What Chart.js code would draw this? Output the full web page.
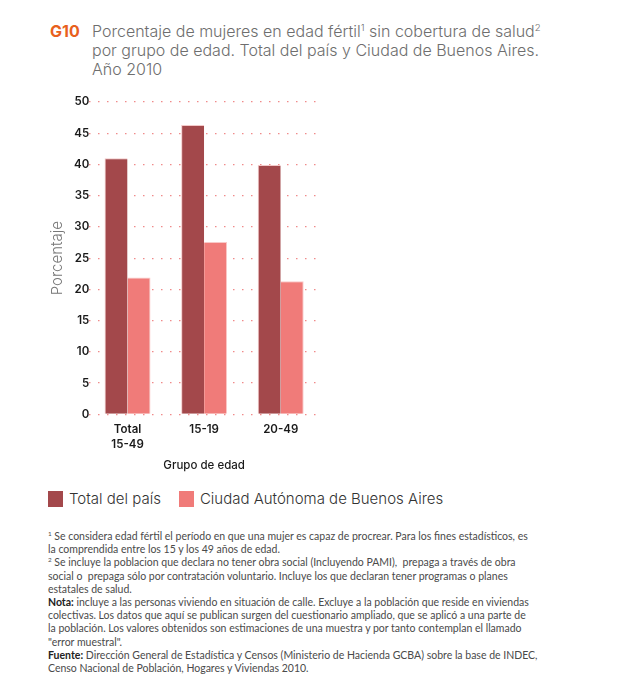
<!DOCTYPE html>
<html lang="es">
<head>
  <meta charset="UTF-8" />
  <title>G10 Porcentaje de mujeres en edad fértil sin cobertura de salud</title>
  <script src="https://cdn.jsdelivr.net/npm/chart.js"></script>
  <style>
    body {
      margin: 0;
      width: 625px;
      height: 688px;
      background: #fff;
      font-family: Inter, "Open Sans", sans-serif;
      position: relative;
      overflow: hidden;
    }
    .title {
      position: absolute;
      left: 50px;
      top: 22px;
      font-size: 16px;
      line-height: 19px;
      font-weight: 300;
      color: #6e6e6e;
    }
    .title .code {
      position: absolute;
      left: 0;
      top: 0;
      color: #e8601c;
      font-weight: 700;
    }
    .title .text {
      margin-left: 42px;
    }
    .chart-box {
      position: absolute;
      left: 0;
      top: 0;
      width: 625px;
      height: 480px;
    }
    .legend {
      position: absolute;
      left: 48px;
      top: 489px;
      display: flex;
      font-size: 15px;
      font-weight: 300;
      color: #333;
    }
    .legend span.item {
      display: flex;
      align-items: center;
      margin-right: 18px;
    }
    .legend i {
      display: inline-block;
      width: 15px;
      height: 16px;
      margin-right: 6px;
    }
    .notes {
      position: absolute;
      left: 48px;
      top: 530px;
      font-family: Lato, Inter, sans-serif;
      font-size: 10.5px;
      line-height: 13.2px;
      font-weight: 400;
      color: #4a4a4a;
    }
    .notes b { font-weight: 700; color: #222; }
    sup { font-size: 0.6em; line-height: 0; vertical-align: 0.6em; }
  </style>
</head>
<body>
  <div class="title">
    <span class="code">G10</span>
    <div class="text">Porcentaje de mujeres en edad fértil<sup>1</sup> sin cobertura de salud<sup>2</sup><br>por grupo de edad. Total del país y Ciudad de Buenos Aires.<br>Año 2010</div>
  </div>

  <div class="chart-box"><canvas id="chart"></canvas></div>

  <div class="legend" id="legend"></div>

  <div class="notes">
    <sup>1</sup> Se considera edad fértil el período en que una mujer es capaz de procrear. Para los fines estadísticos, es<br>
    la comprendida entre los 15 y los 49 años de edad.<br>
    <sup>2</sup> Se incluye la poblacion que declara no tener obra social (Incluyendo PAMI),&nbsp; prepaga a través de obra<br>
    social o&nbsp; prepaga sólo por contratación voluntario. Incluye los que declaran tener programas o planes<br>
    estatales de salud.<br>
    <b>Nota:</b> incluye a las personas viviendo en situación de calle. Excluye a la población que reside en viviendas<br>
    colectivas. Los datos que aquí se publican surgen del cuestionario ampliado, que se aplicó a una parte de<br>
    la población. Los valores obtenidos son estimaciones de una muestra y por tanto contemplan el llamado<br>
    "error muestral".<br>
    <b>Fuente:</b> Dirección General de Estadística y Censos (Ministerio de Hacienda GCBA) sobre la base de INDEC,<br>
    Censo Nacional de Población, Hogares y Viviendas 2010.
  </div>

  <script>
    // data
    const categories = [['Total', '15-49'], '15-19', '20-49'];
    const totalPais = [41.0, 46.3, 39.9];
    const caba = [21.9, 27.6, 21.3];
    const seriesNames = ['Total del país', 'Ciudad Autónoma de Buenos Aires'];
    const seriesColors = ['#a3484b', '#f07b79'];
    const yTicks = [0, 5, 10, 15, 20, 25, 30, 35, 40, 45, 50];

    const font = 'Inter, "Open Sans", sans-serif';

    const chart = new Chart(document.getElementById('chart'), {
      type: 'bar',
      data: {
        labels: categories,
        datasets: [
          { label: seriesNames[0], data: totalPais, backgroundColor: seriesColors[0],
            borderColor: '#f3c9c9', borderWidth: { top: 1, left: 1, right: 0, bottom: 0 } },
          { label: seriesNames[1], data: caba, backgroundColor: seriesColors[1],
            borderColor: '#f9c9c8', borderWidth: { top: 1, left: 0, right: 1, bottom: 0 } }
        ]
      },
      options: {
        responsive: true,
        maintainAspectRatio: false,
        animation: false,
        layout: { padding: { left: 48, right: 306, top: 102, bottom: 8 } },
        plugins: {
          legend: { display: false },
          tooltip: { enabled: false }
        },
        datasets: { bar: { categoryPercentage: 0.6, barPercentage: 1.0 } },
        scales: {
          x: {
            grid: { display: false },
            border: { display: false },
            ticks: { color: '#1a1a1a', font: { family: font, size: 11.5, weight: '600', lineHeight: 1.3 }, padding: 0, maxRotation: 0 },
            title: { display: true, text: 'Grupo de edad', color: '#1a1a1a',
                     font: { family: font, size: 11.5, weight: '500' }, padding: { top: 6, bottom: 0 } }
          },
          y: {
            min: 0,
            max: 50,
            afterBuildTicks: (axis) => { axis.ticks = yTicks.map(v => ({ value: v })); },
            grid: { color: '#f08a8a', lineWidth: 1.2, drawTicks: false },
            border: { display: false, dash: [1.5, 7.5] },
            ticks: { color: '#1a1a1a', font: { family: font, size: 11.5, weight: '600' }, padding: 0 },
            title: { display: true, text: 'Porcentaje', color: '#777',
                     font: { family: font, size: 15, weight: '300' }, padding: { top: 0, bottom: 8 } }
          }
        }
      }
    });

    // legend built from the series names and colours
    const legend = document.getElementById('legend');
    seriesNames.forEach((name, i) => {
      const item = document.createElement('span');
      item.className = 'item';
      item.innerHTML = '<i style="background:' + seriesColors[i] + '"></i>' + name;
      legend.appendChild(item);
    });
  </script>
</body>
</html>
